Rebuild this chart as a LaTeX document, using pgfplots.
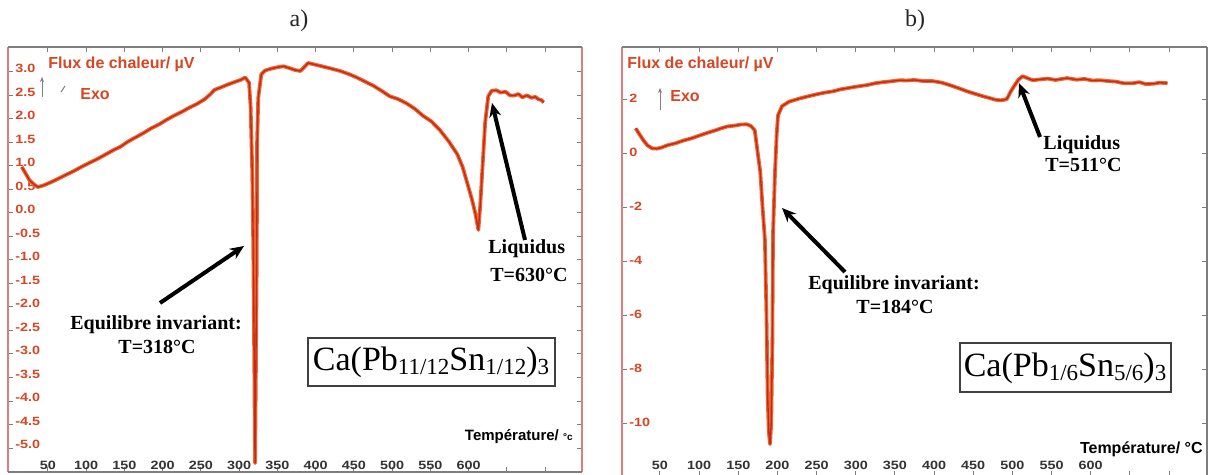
\documentclass[border=0pt]{standalone}
\usepackage{fontspec}
\setmainfont{Liberation Serif}
\newfontfamily\arial{Liberation Sans}
\newfontfamily\tickf[FakeStretch=1.2]{Liberation Sans}
\usepackage{pgfplots}
\usepackage{pgfplotstable}
\pgfplotsset{compat=1.18}
\usetikzlibrary{arrows.meta}
\definecolor{curveO}{RGB}{236,104,48}
\definecolor{curveR}{RGB}{196,40,25}
\definecolor{lblred}{RGB}{215,70,35}
\definecolor{spinered}{RGB}{222,125,125}
\definecolor{spinegray}{RGB}{125,125,125}
\newcommand\sub[1]{\raisebox{-0.3ex}{\fontsize{11.5}{12}\selectfont #1}}

\pgfplotstableread{
T v
16 0.98
21 0.84
26 0.70
31 0.62
37 0.55
45 0.59
55 0.66
65 0.74
75 0.82
85 0.90
95 0.99
105 1.07
115 1.15
125 1.24
135 1.33
145 1.41
155 1.52
165 1.61
175 1.70
185 1.80
195 1.88
205 1.98
215 2.07
225 2.15
235 2.24
245 2.32
255 2.42
262 2.52
268 2.62
276 2.67
285 2.73
295 2.79
302 2.83
308 2.88
313 2.77
315 2.26
317.2 0.85
318.5 -0.72
320 -3.5
320.8 -5.32
321.8 -3.5
323 -1.0
323.5 1.5
325 2.45
329 2.95
334 3.03
342 3.07
350 3.10
358 3.12
366 3.08
373 3.04
380 3.02
385 3.10
390 3.19
398 3.16
408 3.12
418 3.08
432 3.02
444 2.95
454 2.88
465 2.79
475 2.71
486 2.60
497 2.48
508 2.42
519 2.33
530 2.21
540 2.07
551 1.95
562 1.77
574 1.52
585 1.25
592 0.98
598 0.64
604 0.30
608.5 0.00
612.6 -0.36
615 0.15
617.6 0.86
621.5 1.93
625.5 2.48
630 2.60
636 2.61
642 2.56
648 2.58
654 2.50
660 2.50
665 2.53
670 2.46
676 2.50
682 2.45
687 2.47
691 2.42
695 2.40
698 2.35
}\dataA

\pgfplotstableread{
T v
19 0.93
24 0.70
29 0.48
34 0.30
40 0.19
46 0.18
52 0.22
59 0.30
70 0.38
80 0.48
90 0.56
101 0.67
110 0.76
120 0.85
128 0.93
136 1.00
145 1.03
153 1.07
161 1.08
166 1.02
171 0.86
174 0.20
178 -0.67
181 -2.0
184 -3.2
186 -6.0
187.5 -9.0
189 -10.3
190.5 -10.75
192 -10.0
193.5 -7.0
194.3 -3.0
196.9 -0.67
199 0.70
200.7 1.41
205.8 1.75
215 1.92
228.8 2.04
240 2.12
250 2.19
260 2.25
271 2.30
280 2.37
290 2.42
300 2.47
314 2.53
325 2.60
335 2.64
345 2.67
356 2.71
365 2.70
375 2.72
386 2.68
398 2.68
410 2.62
420 2.53
431 2.42
442 2.30
452 2.21
462 2.12
471 2.05
478 1.99
484 1.97
489 1.98
493 2.02
498 2.30
503 2.53
508 2.74
513 2.86
519 2.79
526 2.71
535 2.74
545 2.77
555 2.72
570 2.79
582 2.73
592 2.76
602 2.70
612 2.71
622 2.68
632 2.66
642 2.60
654 2.60
662 2.64
670 2.57
680 2.58
688 2.62
698 2.60
}\dataB

\pgfplotsset{dsc/.style={
  scale only axis, clip=false,
  axis line style={draw=none},
  tick align=inside, xtick pos=both, ytick pos=both,
  major tick length=2.5pt,
  tick style={draw=spinegray, line width=0.5pt},
  xtick={50,100,...,700},
  xticklabels={50,100,150,200,250,300,350,400,450,500,550,600,{},{}},
  xticklabel style={anchor=south, inner sep=0pt, yshift=1.2pt,
    font=\tickf\bfseries\fontsize{6}{6}\selectfont, text=black!80},
  yticklabel style={anchor=west, inner sep=0pt, xshift=3.5pt,
    font=\tickf\bfseries\fontsize{6}{6}\selectfont, text=lblred},
}}

\begin{document}
\begin{tikzpicture}
\path[use as bounding box] (0,0) rectangle (605.5pt,237.5pt);

% ---------- panel a ----------
\begin{axis}[dsc, at={(4pt,1.5pt)}, anchor=south west,
  width=287pt, height=212.5pt,
  xmin=-2, xmax=748, ymin=-5.51, ymax=3.53,
  ytick={-5,-4.5,-4,-3.5,-3,-2.5,-2,-1.5,-1,-0.5,0,0.5,1,1.5,2,2.5,3},
  yticklabels={-5.0,-4.5,-4.0,-3.5,-3.0,-2.5,-2.0,-1.5,-1.0,-0.5,0.0,0.5,1.0,1.5,2.0,2.5,3.0},
  yticklabel style={yshift=1.6pt}]
\draw[spinered, line width=0.6pt] (rel axis cs:0,0) -- (rel axis cs:0,1);
\draw[spinered, line width=0.6pt] (rel axis cs:1,0) -- (rel axis cs:1,1);
\draw[spinegray, line width=0.6pt] (rel axis cs:0,1) -- (rel axis cs:1,1);
\draw[spinegray, line width=0.6pt] (rel axis cs:0,0) -- (rel axis cs:1,0);
\addplot[curveO, line width=1.9pt, line join=round] table[x=T,y=v] {\dataA};
\addplot[curveR, line width=0.7pt, line join=round] table[x=T,y=v] {\dataA};
\end{axis}

% ---------- panel b ----------
\begin{axis}[dsc, at={(311pt,-0.5pt)}, anchor=south west,
  width=292.5pt, height=214.5pt,
  xmin=1.5, xmax=748.5, ymin=-11.93, ymax=3.94,
  ytick={-10,-8,-6,-4,-2,0,2},
  yticklabels={-10,-8,-6,-4,-2,0,2},
  yticklabel style={yshift=0.8pt},
  xticklabel style={yshift=2pt}]
\draw[spinered, line width=0.6pt] (rel axis cs:0,0) -- (rel axis cs:0,1);
\draw[spinegray, line width=0.6pt] (rel axis cs:1,0) -- (rel axis cs:1,1);
\draw[spinegray, line width=0.6pt] (rel axis cs:0,1) -- (rel axis cs:1,1);
\addplot[curveO, line width=1.9pt, line join=round] table[x=T,y=v] {\dataB};
\addplot[curveR, line width=0.7pt, line join=round] table[x=T,y=v] {\dataB};
\end{axis}

% ---------- annotations (pixel coordinates, y up) ----------
\begin{scope}[x=0.5pt,y=0.5pt]
\node[font=\fontsize{12}{12}\selectfont, text=black!85] at (299,454) {a)};
\node[font=\fontsize{12}{12}\selectfont, text=black!85] at (915,454) {b)};

\node[anchor=base west, inner sep=0, text=lblred, font=\arial\bfseries\fontsize{8}{8}\selectfont] at (48,406) {Flux de chaleur/ µV};
\node[anchor=base west, inner sep=0, text=lblred, font=\arial\bfseries\fontsize{8}{8}\selectfont] at (627,406) {Flux de chaleur/ µV};
\node[anchor=base west, inner sep=0, text=lblred, font=\arial\bfseries\fontsize{8}{8}\selectfont] at (80,375) {Exo};
\node[anchor=base west, inner sep=0, text=lblred, font=\arial\bfseries\fontsize{8}{8}\selectfont] at (670,373) {Exo};
\draw[gray, line width=0.35pt, -{Stealth[length=2.5pt,width=2pt]}] (42,378) -- (42,398);
\draw[gray, line width=0.5pt] (61,383) -- (65,389);
\draw[gray, line width=0.35pt, -{Stealth[length=2.5pt,width=2pt]}] (660,365) -- (660,387);

\node[anchor=base east, inner sep=0, font=\arial\bfseries\fontsize{7.5}{8}\selectfont] at (573,34) {Température/ {\fontsize{5}{5}\selectfont °c}};
\node[anchor=base east, inner sep=0, font=\arial\bfseries\fontsize{8}{8}\selectfont] at (1203,21) {Température/ °C};

\node[anchor=base west, inner sep=0, font=\bfseries\fontsize{10}{10}\selectfont] at (70,145) {Equilibre invariant:};
\node[anchor=base, inner sep=0, font=\bfseries\fontsize{10}{10}\selectfont] at (157,121) {T=318°C};
\node[anchor=base west, inner sep=0, font=\bfseries\fontsize{10}{10}\selectfont] at (808,185) {Equilibre invariant:};
\node[anchor=base, inner sep=0, font=\bfseries\fontsize{10}{10}\selectfont] at (895,161) {T=184°C};
\node[anchor=base west, inner sep=0, font=\bfseries\fontsize{10}{10}\selectfont] at (488,221) {Liquidus};
\node[anchor=base west, inner sep=0, font=\bfseries\fontsize{10}{10}\selectfont] at (490,193) {T=630°C};
\node[anchor=base west, inner sep=0, font=\bfseries\fontsize{10}{10}\selectfont] at (1043,325) {Liquidus};
\node[anchor=base west, inner sep=0, font=\bfseries\fontsize{10}{10}\selectfont] at (1045,303) {T=511°C};

\draw[black!75, line width=0.6pt, fill=white] (308,89) rectangle (555,137);
\node[font=\fontsize{17}{17}\selectfont] at (431,113) {Ca(Pb\sub{11/12}Sn\sub{1/12})\sub{3}};
\draw[black!75, line width=0.6pt, fill=white] (960,83) rectangle (1171,132);
\node[font=\fontsize{17}{17}\selectfont] at (1065,107) {Ca(Pb\sub{1/6}Sn\sub{5/6})\sub{3}};

\begin{scope}[line width=2pt, -{Stealth[length=7pt,width=6pt]}]
\draw (160,172) -- (244,229);
\draw (525,235) -- (492,372);
\draw (845,203) -- (782,267);
\draw (1040,338) -- (1019,392);
\end{scope}
\end{scope}
\end{tikzpicture}
\end{document}
